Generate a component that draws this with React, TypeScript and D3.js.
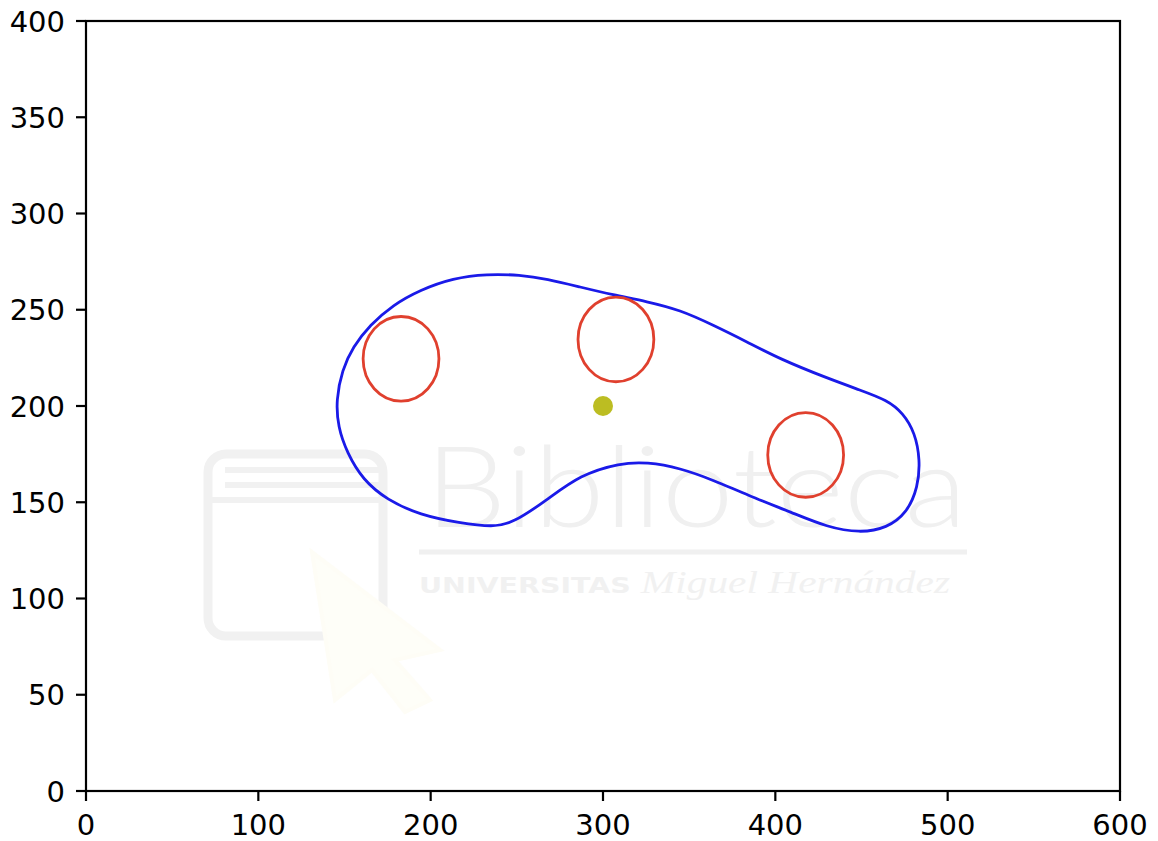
import React from "react";
import * as d3 from "d3";

// Outline of the region (data coordinates), traced clockwise from the left edge
const contourX = [145.1, 148.6, 154.9, 164.8, 178.1, 193.8, 213.0, 232.7, 251.8, 267.5, 286.7, 305.8, 325.5, 344.7, 363.8, 383.6, 402.7, 430.0, 449.1, 464.8, 474.1, 481.1, 484.0, 482.8, 476.4, 464.8, 449.1, 430.0, 410.3, 383.6, 363.8, 344.7, 325.5, 309.9, 286.7, 267.5, 247.8, 236.2, 217.0, 193.8, 174.7, 160.7, 151.5, 146.2];
const contourY = [203.1, 218.7, 230.7, 242.1, 252.5, 260.3, 266.5, 268.6, 268.1, 266.0, 261.8, 257.7, 254.3, 249.9, 242.1, 233.3, 224.4, 214.5, 208.3, 203.1, 196.4, 186.0, 172.0, 157.9, 144.4, 136.6, 134.0, 137.1, 144.4, 153.8, 161.6, 167.8, 170.9, 170.4, 164.2, 151.2, 139.2, 137.1, 139.2, 143.4, 151.2, 161.6, 175.6, 189.1];

// Circular obstacles: centres and radius (data units)
const circleX = [182.8, 307.5, 417.6];
const circleY = [224.5, 234.6, 174.6];
const circleR = [22, 22, 22];

// Single point marker
const pointX = [300];
const pointY = [200];

const xTicks = [0, 100, 200, 300, 400, 500, 600];
const yTicks = [0, 50, 100, 150, 200, 250, 300, 350, 400];

const W = 1158;
const H = 841;
const left = 86;
const right = 1120;
const top = 21;
const bottom = 791;

export default function App() {
  const x = d3.scaleLinear().domain([0, 600]).range([left, right]);
  const y = d3.scaleLinear().domain([0, 400]).range([bottom, top]);

  const contour = contourX.map((v, i) => [v, contourY[i]] as [number, number]);
  const line = d3
    .line<[number, number]>()
    .x((d) => x(d[0]))
    .y((d) => y(d[1]))
    .curve(d3.curveBasisClosed);

  const font = "'DejaVu Sans', sans-serif";
  const fs = 29;

  return (
    <svg
      width={W}
      height={H}
      style={{ position: "absolute", left: 0, top: 0, background: "#fff" }}
    >
      <rect x={0} y={0} width={W} height={H} fill="#fff" />

      {/* faint library watermark */}
      <g>
        <rect x={208} y={454} width={175} height={182} rx={18} fill="none" stroke="#f1f1f1" strokeWidth={9} />
        <line x1={225} x2={385} y1={470} y2={470} stroke="#f1f1f1" strokeWidth={6} />
        <line x1={225} x2={385} y1={485} y2={485} stroke="#f1f1f1" strokeWidth={6} />
        <line x1={212} x2={385} y1={500} y2={500} stroke="#f1f1f1" strokeWidth={6} />
        <path
          d="M312,552 L440,650 L395,660 L430,700 L405,712 L372,670 L335,700 Z"
          fill="#fefef8"
          stroke="#fefdf6"
          strokeWidth={4}
        />
        <text
          x={425}
          y={527}
          fontFamily="Lato, 'Open Sans', sans-serif"
          fontWeight={300}
          fontSize={112}
          fill="#f0f0f0"
          textLength={542}
          lengthAdjust="spacingAndGlyphs"
        >
          Biblioteca
        </text>
        <line x1={419} x2={967} y1={552} y2={552} stroke="#f0f0f0" strokeWidth={5} />
        <text x={419} y={593} fill="#f1f1f1" textLength={531} lengthAdjust="spacingAndGlyphs">
          <tspan fontFamily="'DejaVu Sans', sans-serif" fontWeight={700} fontSize={22}>
            UNIVERSITAS{" "}
          </tspan>
          <tspan fontFamily="'Liberation Serif', serif" fontStyle="italic" fontSize={32}>
            Miguel Hernández
          </tspan>
        </text>
      </g>

      {/* region outline */}
      <path d={line(contour) ?? ""} fill="none" stroke="#1a1ae8" strokeWidth={2.8} />

      {/* obstacles */}
      {circleX.map((cx, i) => (
        <ellipse
          key={i}
          cx={x(cx)}
          cy={y(circleY[i])}
          rx={x(cx + circleR[i]) - x(cx)}
          ry={y(circleY[i] - circleR[i]) - y(circleY[i])}
          fill="none"
          stroke="#e0402e"
          strokeWidth={2.8}
        />
      ))}

      {pointX.map((px, i) => (
        <circle key={i} cx={x(px)} cy={y(pointY[i])} r={10} fill="#bcbd22" />
      ))}

      {/* axes frame */}
      <rect x={left} y={top} width={right - left} height={bottom - top} fill="none" stroke="#000" strokeWidth={2.2} />

      {xTicks.map((t) => (
        <g key={"x" + t}>
          <line x1={x(t)} x2={x(t)} y1={bottom} y2={bottom + 10} stroke="#000" strokeWidth={2.2} />
          <text x={x(t)} y={bottom + 44} textAnchor="middle" fontFamily={font} fontSize={fs} fill="#000">
            {t}
          </text>
        </g>
      ))}
      {yTicks.map((t) => (
        <g key={"y" + t}>
          <line x1={left - 10} x2={left} y1={y(t)} y2={y(t)} stroke="#000" strokeWidth={2.2} />
          <text x={65} y={y(t) + 10.6} textAnchor="end" fontFamily={font} fontSize={fs} fill="#000">
            {t}
          </text>
        </g>
      ))}
    </svg>
  );
}
